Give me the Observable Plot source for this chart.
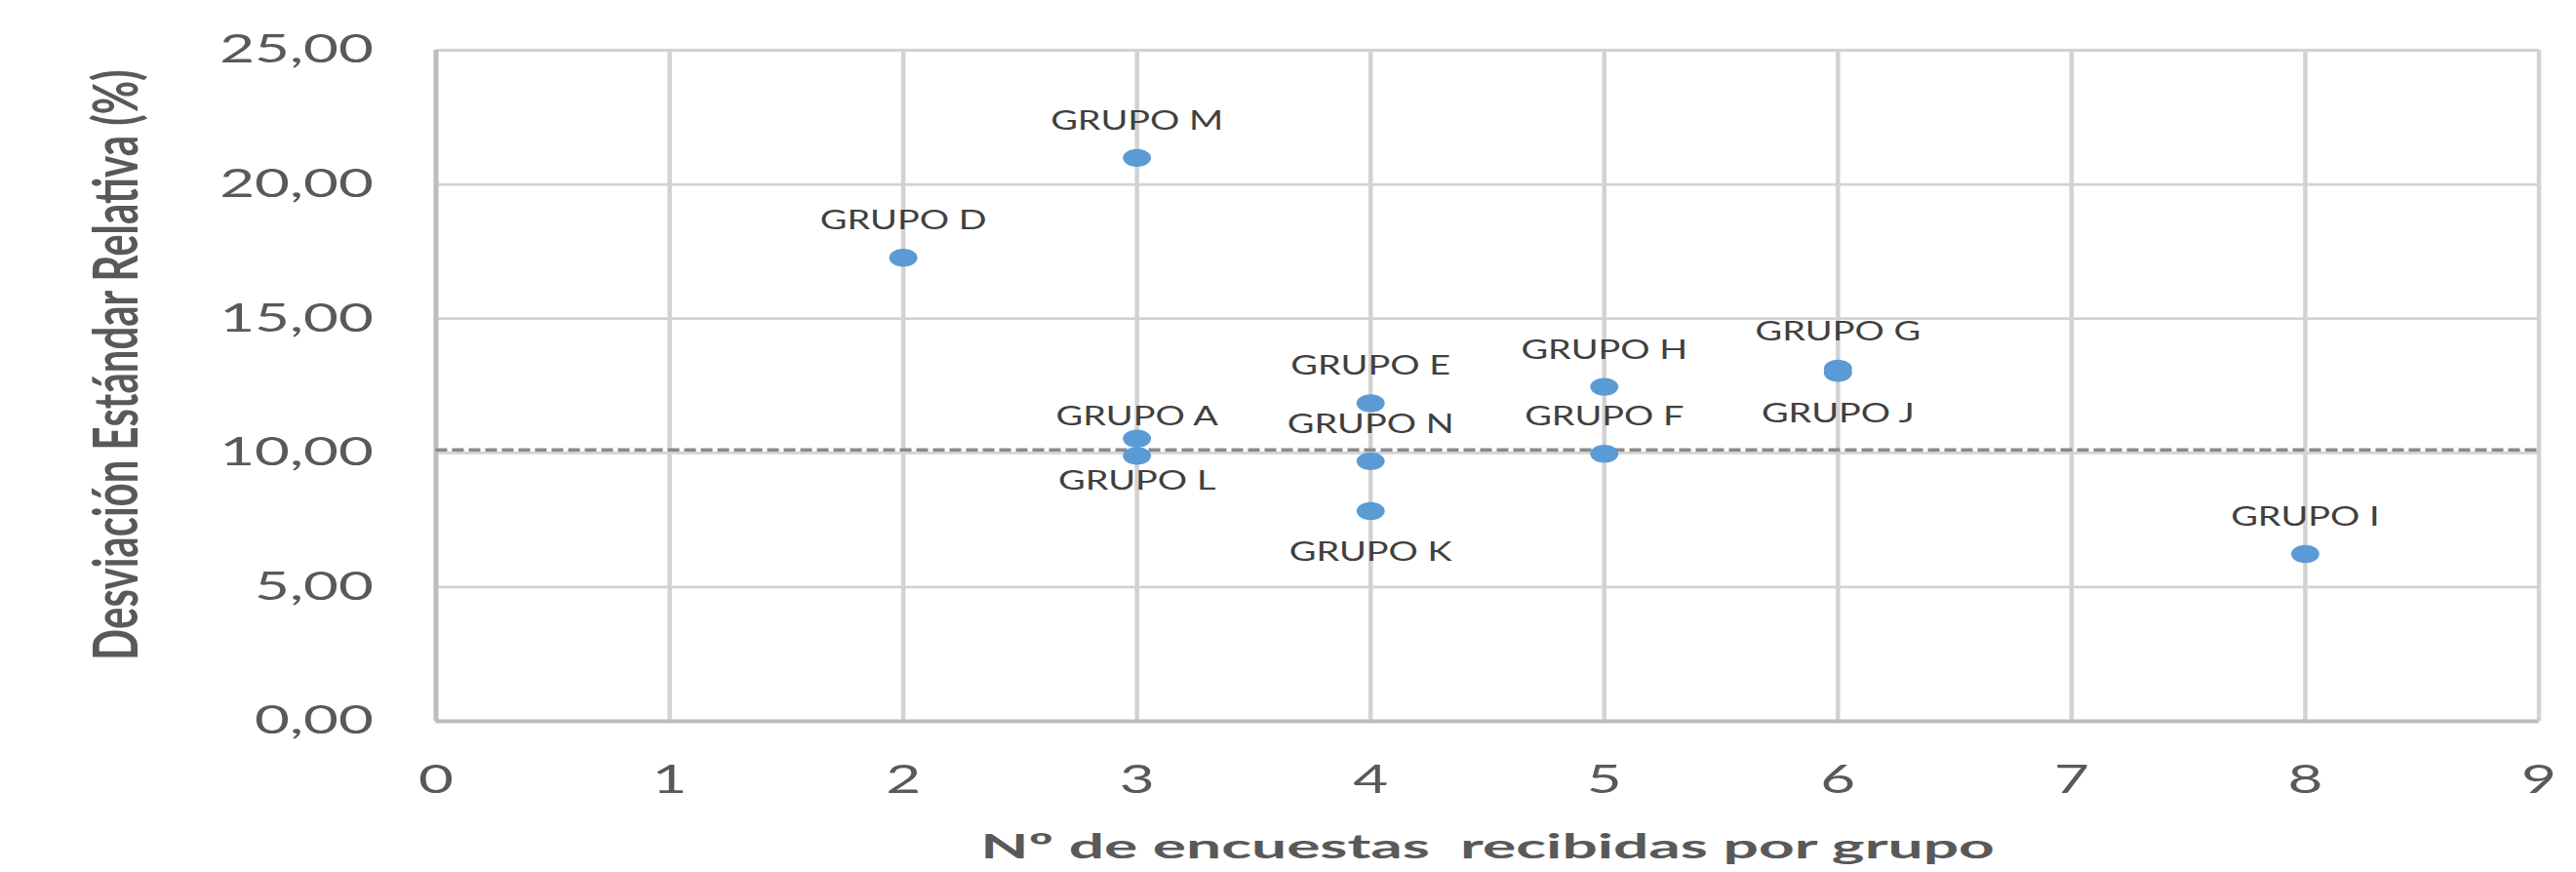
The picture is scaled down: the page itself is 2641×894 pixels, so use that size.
<!DOCTYPE html>
<html>
<head>
<meta charset="utf-8">
<script src="https://cdn.jsdelivr.net/npm/d3@7"></script>
<script src="https://cdn.jsdelivr.net/npm/@observablehq/plot@0.6"></script>
<style>
  html, body { margin: 0; padding: 0; background: #ffffff; overflow: hidden; }
</style>
</head>
<body>
<div id="chart"></div>
<script>
// ---- data ----
const grupos = ["GRUPO A", "GRUPO D", "GRUPO E", "GRUPO F", "GRUPO G", "GRUPO H",
                "GRUPO I", "GRUPO J", "GRUPO K", "GRUPO L", "GRUPO M", "GRUPO N"];
const encuestas = [3, 2, 4, 5, 6, 5, 8, 6, 4, 3, 3, 4];
const desviacion = [10.53, 17.27, 11.85, 9.97, 13.14, 12.46, 6.23, 12.98, 7.83, 9.89, 20.99, 9.69];
const referencia = [10.11];
const xTicks = [0, 1, 2, 3, 4, 5, 6, 7, 8, 9];
const yTicks = [0, 5, 10, 15, 20, 25];
const yTickLabels = ["0,00", "5,00", "10,00", "15,00", "20,00", "25,00"];
const xTitle = ["Nº de encuestas  recibidas por grupo"];
const yTitle = ["Desviación Estándar Relativa (%)"];

// ---- build table ----
const data = grupos.map((g, i) => ({grupo: g, n: encuestas[i], rsd: desviacion[i]}));
const belowSet = new Set(["GRUPO K", "GRUPO J"]);
const above = data.filter(d => !belowSet.has(d.grupo) && d.grupo !== "GRUPO A" && d.grupo !== "GRUPO L");
const below = data.filter(d => belowSet.has(d.grupo));
const nearAbove = data.filter(d => d.grupo === "GRUPO A");
const nearBelow = data.filter(d => d.grupo === "GRUPO L");

// stretched (ellipse) marker, as in the reference
const ellipse = {
  draw(ctx, size) {
    const r = Math.sqrt(size / Math.PI), rx = r * 1.57, ry = r, k = 0.5523;
    ctx.moveTo(rx, 0);
    ctx.bezierCurveTo(rx, ry * k, rx * k, ry, 0, ry);
    ctx.bezierCurveTo(-rx * k, ry, -rx, ry * k, -rx, 0);
    ctx.bezierCurveTo(-rx, -ry * k, -rx * k, -ry, 0, -ry);
    ctx.bezierCurveTo(rx * k, -ry, rx, -ry * k, rx, 0);
    ctx.closePath();
  }
};

const gridColor = "#d2d2d2";
const axisColor = "#bdbdbd";
const labelFont = {fontFamily: "Lato", fontSize: 26.5, fill: "#404040", textAnchor: "middle", lineAnchor: "middle",
  ariaLabel: () => "point labels"};

const plot = Plot.plot({
  width: 2641,
  height: 894,
  marginTop: 51,
  marginBottom: 155,
  marginLeft: 446.5,
  marginRight: 38.5,
  style: {fontFamily: "Lato", color: "#595959", background: "#ffffff", overflow: "visible"},
  x: {domain: [0, 9]},
  y: {domain: [0, 25]},
  marks: [
    Plot.ruleX(xTicks, {stroke: gridColor, strokeWidth: 4.5}),
    Plot.ruleY(yTicks, {stroke: gridColor, strokeWidth: 2.8}),
    Plot.ruleX([0], {stroke: axisColor, strokeWidth: 5}),
    Plot.ruleY([0], {stroke: axisColor, strokeWidth: 4}),
    Plot.ruleY(referencia, {x1: 0, x2: 9, stroke: "#8a8a8a", strokeWidth: 3.6, strokeDasharray: "12,5"}),
    Plot.axisY(yTicks, {tickFormat: d => yTickLabels[yTicks.indexOf(d)], tickSize: 0, tickPadding: 64,
      fontSize: 40, label: null}),
    Plot.axisX(xTicks, {tickFormat: d => String(d), tickSize: 0, tickPadding: 45, fontSize: 40, label: null}),
    Plot.dot(data, {x: "n", y: "rsd", r: 9.2, symbol: ellipse, fill: "#5b9bd5", stroke: "none"}),
    Plot.text(above, {x: "n", y: "rsd", text: "grupo", dy: -37.5, ...labelFont}),
    Plot.text(below, {x: "n", y: "rsd", text: "grupo", dy: 42, ...labelFont}),
    Plot.text(nearAbove, {x: "n", y: "rsd", text: "grupo", dy: -22.5, ...labelFont}),
    Plot.text(nearBelow, {x: "n", y: "rsd", text: "grupo", dy: 26, ...labelFont}),
    Plot.text(xTitle, {frameAnchor: "bottom", dy: 128.8, fontSize: 35, fontWeight: "bold", textAnchor: "middle",
      fontFamily: "Lato", fill: "#595959", lineAnchor: "middle", ariaLabel: () => "x title"}),
    Plot.text(yTitle, {frameAnchor: "left", rotate: -90, dx: -326, dy: -21.5, fontSize: 42, fontWeight: "bold",
      textAnchor: "middle", fontFamily: "Lato", fill: "#595959", lineAnchor: "middle", ariaLabel: () => "y title"})
  ]
});

document.getElementById("chart").appendChild(plot);

// horizontal stretch of the texts about their anchor (the reference is stretched horizontally)
function stretch(sel, sx) {
  sel.each(function () {
    const t = this.getAttribute("transform") || "";
    const m = /translate\(\s*([-\d.e]+)\s*[, ]\s*([-\d.e]+)\s*\)/.exec(t);
    let ax = m ? +m[1] : 0;
    if (!/rotate/.test(t)) ax += +(this.getAttribute("x") || 0);
    this.setAttribute("transform", `translate(${ax},0) scale(${sx},1) translate(${-ax},0) ${t}`);
  });
}
const svg = d3.select(plot);
const pick = (name) => svg.selectAll(`g[aria-label="${name}"] text, text[aria-label="${name}"]`);
stretch(pick("y-axis tick label"), 1.55);
stretch(pick("x-axis tick label"), 1.55);
stretch(pick("point labels"), 1.43);
stretch(pick("x title"), 1.83);
stretch(pick("y title"), 1.5);
</script>
</body>
</html>
